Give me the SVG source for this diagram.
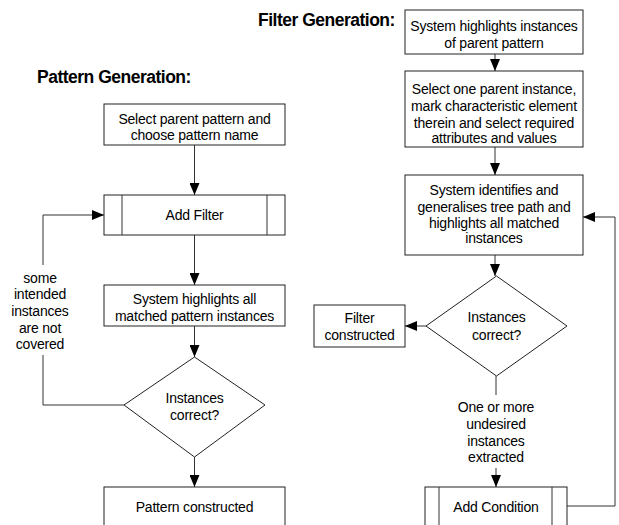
<svg xmlns="http://www.w3.org/2000/svg" width="619" height="525" viewBox="0 0 619 525">
<style>
.b{fill:#fff;stroke:#222;stroke-width:1}
.c{fill:none;stroke:#333;stroke-width:1}
.t{font-family:"Liberation Sans",Arial,sans-serif;font-size:14px;fill:#000;text-anchor:middle;letter-spacing:-0.2px}
.h{font-family:"Liberation Sans",Arial,sans-serif;font-size:17.5px;font-weight:bold;fill:#000;letter-spacing:-0.5px}
</style>
<defs>
<marker id="a" markerWidth="12" markerHeight="10" refX="12" refY="5" orient="auto" markerUnits="userSpaceOnUse">
<path d="M0,0 L12,5 L0,10 Z" fill="#000"/>
</marker>
</defs>
<rect width="619" height="525" fill="#fff"/>
<text class="h" x="37" y="83">Pattern Generation:</text>
<text class="h" x="258" y="26">Filter Generation:</text>

<g id="connectors">
<path class="c" d="M194.5,145 V195" marker-end="url(#a)"/>
<path class="c" d="M194.5,235 V285" marker-end="url(#a)"/>
<path class="c" d="M194.5,326 V357" marker-end="url(#a)"/>
<path class="c" d="M194.5,457 V487" marker-end="url(#a)"/>
<path class="c" d="M124,405 H43 V355"/>
<path class="c" d="M43,265 V215 H104" marker-end="url(#a)"/>
<path class="c" d="M495,54 V71" marker-end="url(#a)"/>
<path class="c" d="M495,147 V175" marker-end="url(#a)"/>
<path class="c" d="M495,255 V276" marker-end="url(#a)"/>
<path class="c" d="M426,326 H405" marker-end="url(#a)"/>
<path class="c" d="M496,376 V395"/>
<path class="c" d="M496,468 V487" marker-end="url(#a)"/>
<path class="c" d="M567,506 H615 V217 H583" marker-end="url(#a)"/>
<text class="t" x="40" y="283">some</text>
<text class="t" x="40" y="299">intended</text>
<text class="t" x="40" y="316">instances</text>
<text class="t" x="40" y="333">are not</text>
<text class="t" x="40" y="349">covered</text>
<text class="t" x="496" y="412">One or more</text>
<text class="t" x="496" y="429">undesired</text>
<text class="t" x="496" y="446">instances</text>
<text class="t" x="496" y="462">extracted</text>
</g>

<g id="select-parent">
<rect class="b" x="104" y="104" width="181" height="41"/>
<text class="t" x="194.5" y="124">Select parent pattern and</text>
<text class="t" x="194.5" y="140">choose pattern name</text>
</g>
<g id="add-filter">
<rect class="b" x="104" y="195" width="181" height="40"/>
<path class="c" d="M122,195 V235 M267,195 V235"/>
<text class="t" x="194.5" y="220">Add Filter</text>
</g>
<g id="highlights-all">
<rect class="b" x="104" y="285" width="181" height="41"/>
<text class="t" x="194.5" y="304">System highlights all</text>
<text class="t" x="194.5" y="321">matched pattern instances</text>
</g>
<g id="decision-1">
<path class="b" d="M194.5,357 L265,405 L194.5,457 L124,405 Z"/>
<text class="t" x="194.5" y="403">Instances</text>
<text class="t" x="194.5" y="420">correct?</text>
</g>
<g id="pattern-constructed">
<rect class="b" x="104" y="487" width="181" height="50"/>
<text class="t" x="194.5" y="512">Pattern constructed</text>
</g>

<g id="highlight-instances">
<rect class="b" x="405" y="10" width="178" height="44"/>
<text class="t" x="494" y="31">System highlights instances</text>
<text class="t" x="494" y="48">of parent pattern</text>
</g>
<g id="select-instance">
<rect class="b" x="405" y="71" width="178" height="76"/>
<text class="t" x="494" y="94">Select one parent instance,</text>
<text class="t" x="494" y="111">mark characteristic element</text>
<text class="t" x="494" y="128">therein and select required</text>
<text class="t" x="494" y="143">attributes and values</text>
</g>
<g id="identify-path">
<rect class="b" x="405" y="175" width="178" height="80"/>
<text class="t" x="494" y="195">System identifies and</text>
<text class="t" x="494" y="212">generalises tree path and</text>
<text class="t" x="494" y="228">highlights all matched</text>
<text class="t" x="494" y="243">instances</text>
</g>
<g id="decision-2">
<path class="b" d="M496.5,276 L567,326 L496.5,376 L426,326 Z"/>
<text class="t" x="496.5" y="322">Instances</text>
<text class="t" x="496.5" y="340">correct?</text>
</g>
<g id="filter-constructed">
<rect class="b" x="314" y="305" width="91" height="42"/>
<text class="t" x="359.5" y="323">Filter</text>
<text class="t" x="359.5" y="340">constructed</text>
</g>
<g id="add-condition">
<rect class="b" x="425" y="487" width="142" height="50"/>
<path class="c" d="M439,487 V537 M552,487 V537"/>
<text class="t" x="496" y="512">Add Condition</text>
</g>
</svg>
